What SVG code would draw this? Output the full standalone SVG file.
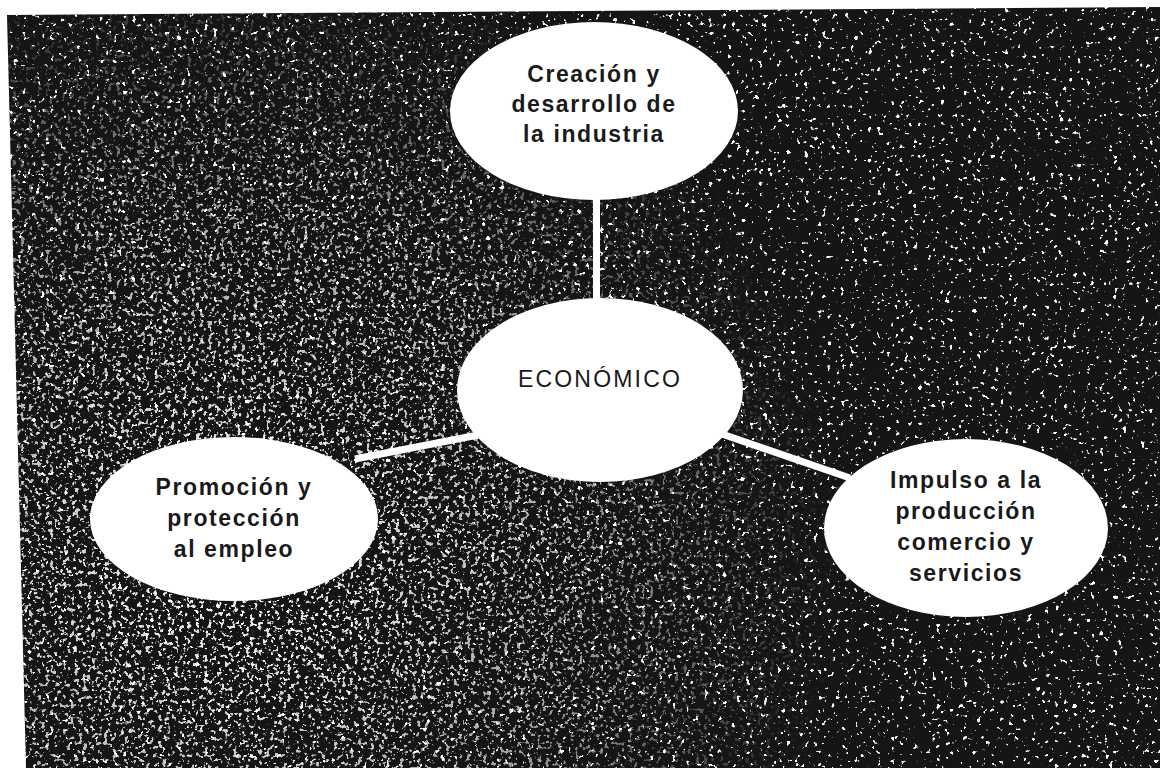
<svg xmlns="http://www.w3.org/2000/svg" width="1160" height="768" viewBox="0 0 1160 768">
<defs>
<style>
.node{fill:#ffffff;}
.lbl{font-family:"Liberation Sans",Arial,sans-serif;font-size:23px;font-weight:bold;fill:#1a1a1a;text-anchor:middle;letter-spacing:1.6px;}
.main{font-family:"Liberation Sans",Arial,sans-serif;font-size:23px;fill:#1a1a1a;text-anchor:middle;letter-spacing:2.2px;}
.conn{stroke:#ffffff;stroke-width:7;stroke-linecap:butt;fill:none;}
</style>
<filter id="speckA" x="0" y="0" width="1160" height="768" filterUnits="userSpaceOnUse">
<feTurbulence type="fractalNoise" baseFrequency="0.22" numOctaves="2" seed="7" result="n"/>
<feColorMatrix in="n" type="matrix" values="0 0 0 0 1  0 0 0 0 1  0 0 0 0 1  16 0 0 0 -10.6"/>
</filter>
<filter id="speckB" x="0" y="0" width="1160" height="768" filterUnits="userSpaceOnUse">
<feTurbulence type="fractalNoise" baseFrequency="0.24" numOctaves="2" seed="19" result="n"/>
<feColorMatrix in="n" type="matrix" values="0 0 0 0 1  0 0 0 0 1  0 0 0 0 1  14 0 0 0 -8.2"/>
</filter>
<radialGradient id="dens" cx="230" cy="560" r="620" gradientUnits="userSpaceOnUse">
<stop offset="0" stop-color="#fff" stop-opacity="1"/>
<stop offset="0.55" stop-color="#fff" stop-opacity="0.6"/>
<stop offset="1" stop-color="#fff" stop-opacity="0"/>
</radialGradient>
<mask id="densMask" maskUnits="userSpaceOnUse" x="0" y="0" width="1160" height="768">
<rect x="0" y="0" width="1160" height="768" fill="url(#dens)"/>
</mask>
</defs>
<rect x="0" y="0" width="1160" height="768" fill="#ffffff"/>
<g id="background">
<polygon points="7,15 1160,7 1160,768 26,768" fill="#151515"/>
<polygon points="7,15 1160,7 1160,768 26,768" fill="#ffffff" filter="url(#speckA)"/>
<g mask="url(#densMask)">
<polygon points="7,15 1160,7 1160,768 26,768" fill="#ffffff" filter="url(#speckB)"/>
</g>
</g>
<g id="connectors">
<line class="conn" x1="596.5" y1="190" x2="596.5" y2="302"/>
<line class="conn" x1="478" y1="435" x2="355" y2="459"/>
<line class="conn" x1="722" y1="434" x2="850" y2="478"/>
</g>
<g id="node-top">
<ellipse class="node" cx="594" cy="111" rx="144" ry="89"/>
<text class="lbl" x="594" y="82">Creación y</text>
<text class="lbl" x="594" y="112">desarrollo de</text>
<text class="lbl" x="594" y="142">la industria</text>
</g>
<g id="node-center">
<ellipse class="node" cx="600" cy="390" rx="143" ry="92"/>
<text class="main" x="600" y="387">ECONÓMICO</text>
</g>
<g id="node-left">
<ellipse class="node" cx="234" cy="519" rx="144" ry="82"/>
<text class="lbl" x="234" y="495">Promoción y</text>
<text class="lbl" x="234" y="526">protección</text>
<text class="lbl" x="234" y="557">al empleo</text>
</g>
<g id="node-right">
<ellipse class="node" cx="966" cy="528" rx="142" ry="89"/>
<text class="lbl" x="966" y="488">Impulso a la</text>
<text class="lbl" x="966" y="519">producción</text>
<text class="lbl" x="966" y="550">comercio y</text>
<text class="lbl" x="966" y="581">servicios</text>
</g>
</svg>
